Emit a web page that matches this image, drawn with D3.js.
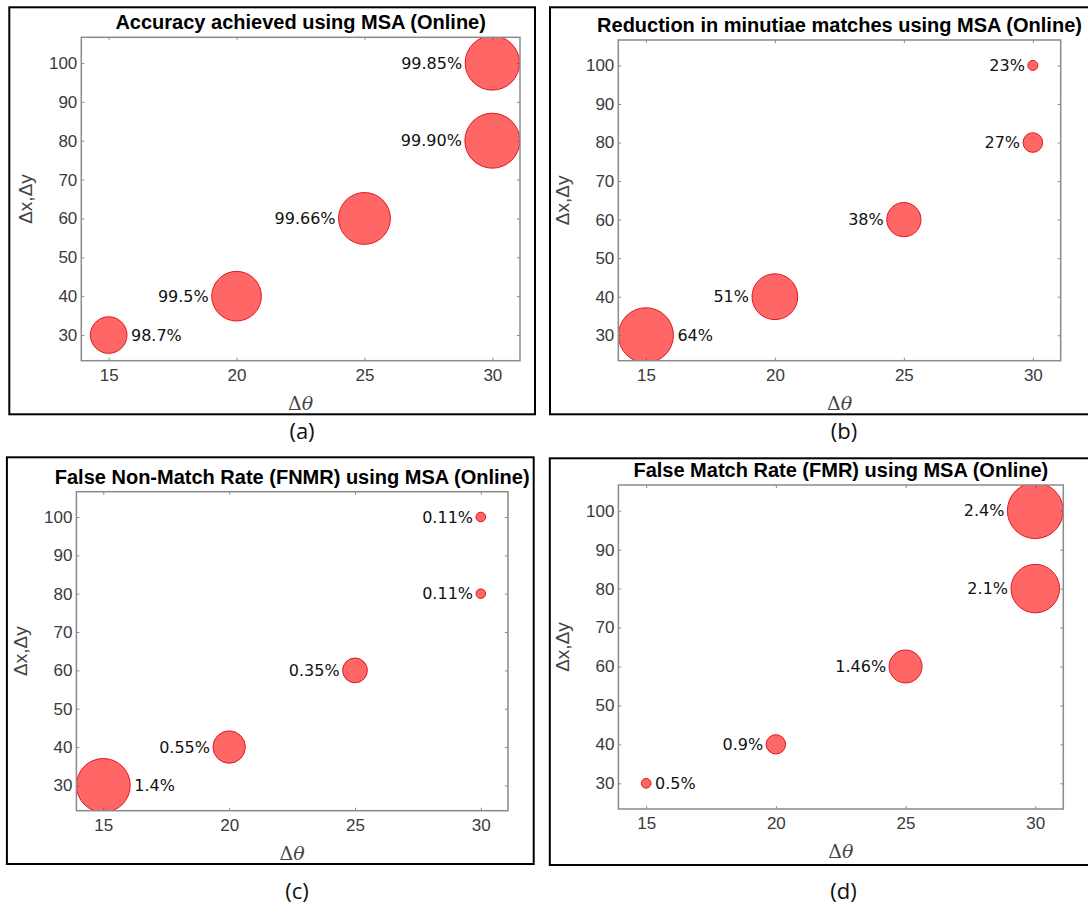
<!DOCTYPE html>
<html>
<head>
<meta charset="utf-8">
<script src="https://cdn.jsdelivr.net/npm/d3@7"></script>
<style>
  html, body { margin: 0; padding: 0; background: #fff; }
  svg { display: block; }
</style>
</head>
<body>
<svg id="chart" width="1088" height="905"></svg>
<script>
// ---------------- data ----------------
const deltaTheta = [15, 20, 25, 30, 30];
const deltaXY    = [30, 40, 60, 80, 100];
const xTickValues = [15, 20, 25, 30];
const yTickValues = [30, 40, 50, 60, 70, 80, 90, 100];

const accuracy       = [98.7, 99.5, 99.66, 99.90, 99.85];
const accuracyLabels = ["98.7%", "99.5%", "99.66%", "99.90%", "99.85%"];
const reduction       = [64, 51, 38, 27, 23];
const reductionLabels = ["64%", "51%", "38%", "27%", "23%"];
const fnmr       = [1.4, 0.55, 0.35, 0.11, 0.11];
const fnmrLabels = ["1.4%", "0.55%", "0.35%", "0.11%", "0.11%"];
const fmr       = [0.5, 0.9, 1.46, 2.1, 2.4];
const fmrLabels = ["0.5%", "0.9%", "1.46%", "2.1%", "2.4%"];

const titles = [
  "Accuracy achieved using MSA (Online)",
  "Reduction in minutiae matches using MSA (Online)",
  "False Non-Match Rate (FNMR) using MSA (Online)",
  "False Match Rate (FMR) using MSA (Online)"
];
const captions = ["(a)", "(b)", "(c)", "(d)"];

// ---------------- layout ----------------
const panels = [
  { values: accuracy,  labels: accuracyLabels,  sizeType: "radial", rRange: [18.3, 27.5],
    border: [9.3, 7.3, 535, 414.3],  plot: [81.3, 37.3, 520, 360.7],  caption: [302, 439] },
  { values: reduction, labels: reductionLabels, sizeType: "radial", rRange: [5, 27.5],
    border: [550, 7.3, 1095, 414.3], plot: [618.3, 40, 1060.7, 360.7], caption: [844, 439] },
  { values: fnmr,      labels: fnmrLabels,      sizeType: "radial", rRange: [4.8, 26.9],
    border: [6.9, 457.3, 533.7, 864], plot: [76.4, 491.7, 508, 810.7], caption: [297, 899] },
  { values: fmr,       labels: fmrLabels,       sizeType: "linear", rRange: [4.85, 27.9],
    border: [549.8, 458.3, 1095, 865], plot: [618.4, 485, 1063.3, 809], caption: [843.5, 899] }
];

const xDomain = [13.93, 31.08];
const yDomain = [23.4, 106.6];

const svg = d3.select("#chart");
const frameColor = "#8a8a8a";
const tickTextColor = "#3a3a3a";

panels.forEach((p, pi) => {
  const [bx0, by0, bx1, by1] = p.border;
  const [px0, py0, px1, py1] = p.plot;

  // outer border
  svg.append("rect")
    .attr("x", bx0).attr("y", by0)
    .attr("width", bx1 - bx0).attr("height", by1 - by0)
    .attr("fill", "none").attr("stroke", "#000").attr("stroke-width", 2);

  const x = d3.scaleLinear().domain(xDomain).range([px0, px1]);
  const y = d3.scaleLinear().domain(yDomain).range([py1, py0]);
  const ext = d3.extent(p.values);
  const r = (p.sizeType === "radial" ? d3.scaleRadial() : d3.scaleLinear())
    .domain(ext).range(p.rRange);

  const g = svg.append("g");

  // axes (ticks inward on all four sides)
  const styleAxis = sel => {
    sel.select(".domain").remove();
    sel.selectAll(".tick line").attr("stroke", frameColor).attr("stroke-width", 1);
    sel.selectAll(".tick text")
      .attr("fill", tickTextColor)
      .attr("font-family", "'Liberation Sans', Arial, sans-serif")
      .attr("font-size", 17);
  };
  g.append("g").attr("transform", `translate(0,${py1})`)
    .call(d3.axisBottom(x).tickValues(xTickValues).tickSizeInner(-3).tickSizeOuter(0).tickPadding(8))
    .call(styleAxis);
  g.append("g").attr("transform", `translate(0,${py0})`)
    .call(d3.axisTop(x).tickValues(xTickValues).tickSizeInner(-3).tickSizeOuter(0).tickFormat(""))
    .call(styleAxis);
  g.append("g").attr("transform", `translate(${px0},0)`)
    .call(d3.axisLeft(y).tickValues(yTickValues).tickSizeInner(-3).tickSizeOuter(0).tickPadding(4))
    .call(styleAxis);
  g.append("g").attr("transform", `translate(${px1},0)`)
    .call(d3.axisRight(y).tickValues(yTickValues).tickSizeInner(-3).tickSizeOuter(0).tickFormat(""))
    .call(styleAxis);

  // clip
  const clipId = "clip" + pi;
  svg.append("clipPath").attr("id", clipId)
    .append("rect").attr("x", px0).attr("y", py0)
    .attr("width", px1 - px0).attr("height", py1 - py0);

  const pts = p.values.map((v, i) => ({ v, label: p.labels[i], tx: deltaTheta[i], ty: deltaXY[i], i }));

  g.append("g").attr("clip-path", `url(#${clipId})`)
    .selectAll("circle").data(pts).join("circle")
    .attr("cx", d => x(d.tx)).attr("cy", d => y(d.ty))
    .attr("r", d => r(d.v))
    .attr("fill", "#ff0000").attr("fill-opacity", 0.6)
    .attr("stroke", "#e0161c").attr("stroke-width", 1);

  // plot frame
  g.append("rect")
    .attr("x", px0).attr("y", py0)
    .attr("width", px1 - px0).attr("height", py1 - py0)
    .attr("fill", "none").attr("stroke", frameColor).attr("stroke-width", 1.5);

  // bubble labels
  g.selectAll("text.lbl").data(pts).join("text")
    .attr("class", "lbl")
    .attr("x", d => d.i === 0 ? x(d.tx) + r(d.v) + 4 : x(d.tx) - r(d.v) - 3)
    .attr("y", d => y(d.ty))
    .attr("dy", "0.36em")
    .attr("text-anchor", d => d.i === 0 ? "start" : "end")
    .attr("font-family", "'DejaVu Sans', sans-serif")
    .attr("font-size", 16)
    .attr("fill", "#111")
    .text(d => d.label);

  const cx = (px0 + px1) / 2;
  const cy = (py0 + py1) / 2;

  // title
  g.append("text")
    .attr("x", cx).attr("y", py0 - 8)
    .attr("text-anchor", "middle")
    .attr("font-family", "'Liberation Sans', Arial, sans-serif")
    .attr("font-weight", "bold")
    .attr("font-size", 20)
    .attr("fill", "#000")
    .text(titles[pi]);

  // x label: Δθ
  const xl = g.append("text")
    .attr("x", cx).attr("y", py1 + 49)
    .attr("text-anchor", "middle")
    .attr("font-family", "'DejaVu Serif', 'Liberation Serif', serif")
    .attr("font-size", 19)
    .attr("fill", "#444");
  xl.append("tspan").text("Δ");
  xl.append("tspan").attr("font-style", "italic").text("θ");

  // y label: Δx,Δy
  g.append("text")
    .attr("transform", `translate(${px0 - 49},${cy}) rotate(-90)`)
    .attr("text-anchor", "middle")
    .attr("font-family", "'Liberation Sans', Arial, sans-serif")
    .attr("font-size", 19)
    .attr("fill", "#444")
    .text("Δx,Δy");

  // caption
  svg.append("text")
    .attr("x", p.caption[0]).attr("y", p.caption[1])
    .attr("text-anchor", "middle")
    .attr("font-family", "'Open Sans', sans-serif")
    .attr("font-size", 22)
    .attr("fill", "#111")
    .text(captions[pi]);
});
</script>
</body>
</html>
